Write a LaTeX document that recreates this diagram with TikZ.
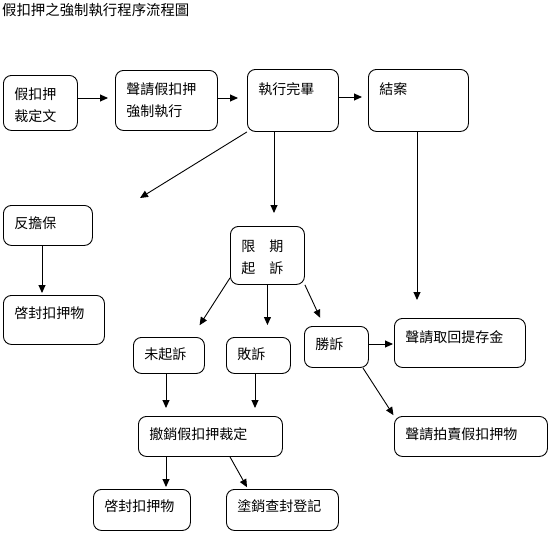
\documentclass[tikz,border=0pt]{standalone}
\usepackage{fontspec}
\setmainfont{Noto Sans CJK TC}
\usetikzlibrary{arrows.meta}
\tikzset{
    box/.style args={#1 #2 #3}{
        draw, rounded corners=8pt, line width=0.9pt,
        anchor=north west, align=left,
        inner xsep=11pt, inner ysep=0pt,
        text width=#1pt, text height=#2pt, text depth=#3pt,
        font=\fontsize{14pt}{22.5pt}\selectfont
    },
    box/.default={50 22 14}
}
\tikzset{
    flow/.style={-{Triangle[length=8pt,width=7pt]}, line width=0.9pt},
%    flow/.style={-{Stealth[length=8pt]}, line width=0.9pt},
    title/.style={anchor=base west, inner sep=0pt, font=\fontsize{14.4pt}{16pt}\selectfont}
}
\begin{document}
\begin{tikzpicture}[x=1pt, y=-1pt]
    \useasboundingbox (0,0) rectangle (550,533);
    \node[title] (tt) at (2,15) {假扣押之強制執行程序流程圖};
    \node[box={52 24 31}] (jk) at (3,75) {假扣押\\裁定文};
    \node[box={80 24 36}] (sq) at (115,70) {聲請假扣押\\強制執行};
    \node[box={69 25 37}] (wb) at (247,69) {執行完畢};
    \node[box={78 25 37}] (ja) at (368,69) {結案};
    \node[box={67 23 17}] (fdb) at (3,205) {反擔保};
    \node[box={79 23 26}] (qf1) at (3,295) {啓封扣押物};
    \node[box={52 25 33}] (xq) at (230,226) {限　期\\起　訴};
    \node[box={49 22 14}] (wqs) at (133,337) {未起訴};
    \node[box={42 22 14}] (bs) at (226,337) {敗訴};
    \node[box={42 23 18}] (ss) at (304,326) {勝訴};
    \node[box={109 24 25}] (qh) at (394,318) {聲請取回提存金};
    \node[box={131 23 17}] (pm) at (394,416) {聲請拍賣假扣押物};
    \node[box={122 23 17}] (cx) at (138,416) {撤銷假扣押裁定};
    \node[box={75 22 19}] (qf2) at (93,489) {啓封扣押物};
    \node[box={90 22 19}] (tx) at (226,489) {塗銷查封登記};
    \coordinate (fd) at (140,198);
    \draw[flow, shorten >=7pt] (jk.east |- 0,98) -- (sq.west |- 0,98);
    \draw[flow, shorten >=9pt] (sq.east |- 0,98) -- (wb.west |- 0,98);
    \draw[flow, shorten >=6pt] (wb.east |- 0,97) -- (ja.west |- 0,97);
    \draw[flow] (wb.south west) -- (fd);
    \draw[flow, shorten >=13pt] (wb.south -| 274,0) -- (xq.north -| 274,0);
    \draw[flow, shorten >=18pt] (ja.south -| 417,0) -- (qh.north -| 417,0);
    \draw[flow, shorten >=2pt] (fdb.south -| 42,0) -- (qf1.north -| 42,0);
    \draw[flow, shorten >=14pt] ([yshift=7pt]xq.south west) -- (wqs.north -| 192,0);
    \draw[flow, shorten >=12pt] (xq.south) -- (bs.north -| xq.south);
    \draw[flow, shorten >=9pt] (xq.south east) -- (ss.north -| 324,0);
    \draw[flow, shorten >=1pt] (ss.east |- 0,344) -- (qh.west |- 0,344);
    \draw[flow, shorten >=1pt] ([xshift=-6pt]ss.south east) -- (pm.north west);
    \draw[flow, shorten >=8pt] (wqs.south -| 166,0) -- (cx.north -| 166,0);
    \draw[flow, shorten >=8pt] (bs.south -| 255,0) -- (cx.north -| 255,0);
    \draw[flow, shorten >=2pt] (cx.south -| 166,0) -- (qf2.north -| 166,0);
    \draw[flow, shorten >=2pt] (cx.south -| 230,0) -- (tx.north -| 248,0);
\end{tikzpicture}
\end{document}
